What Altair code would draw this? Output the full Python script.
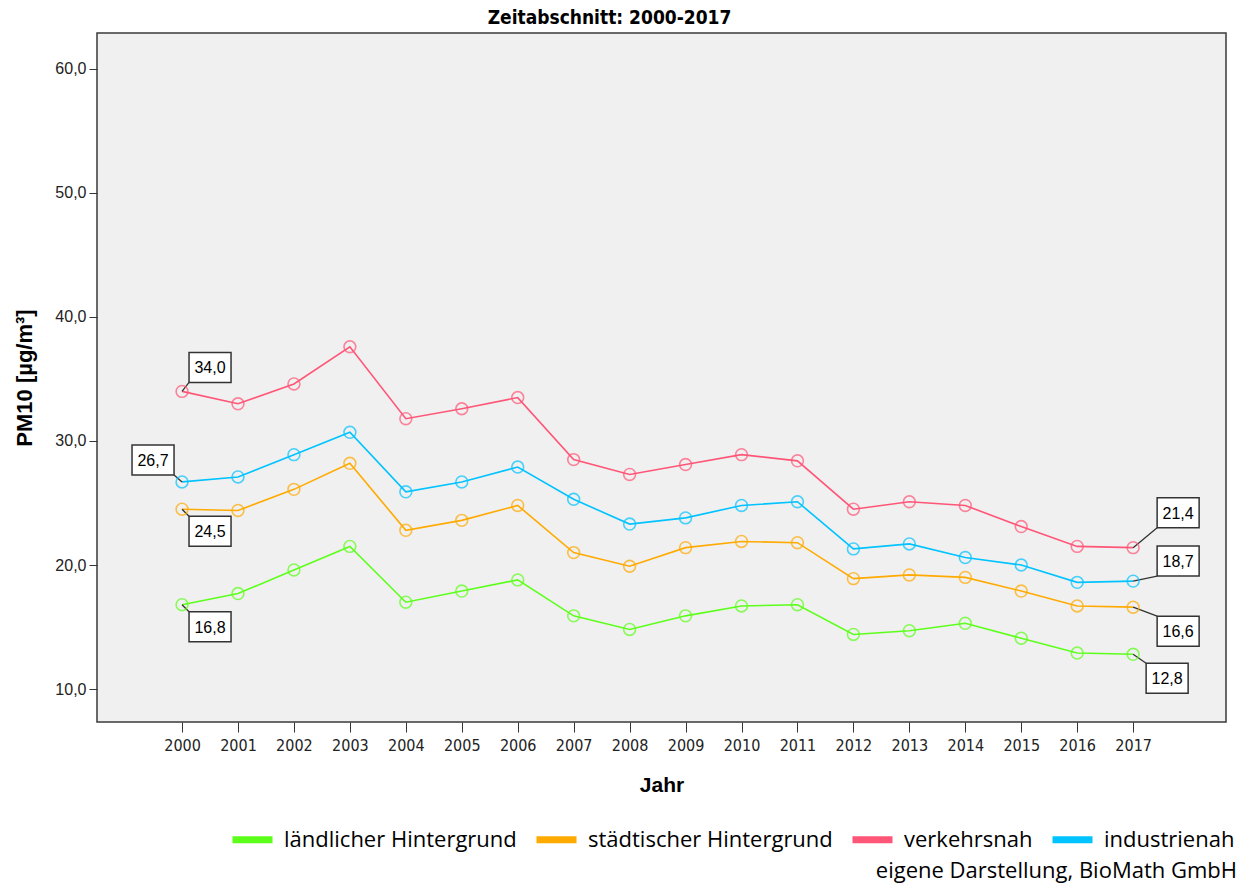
import altair as alt
import pandas as pd

years = list(range(2000, 2018))
laendlich = [16.8, 17.7, 19.6, 21.5, 17.0, 17.9, 18.8, 15.9, 14.8, 15.9, 16.7, 16.8, 14.4, 14.7, 15.3, 14.1, 12.9, 12.8]
staedtisch = [24.5, 24.4, 26.1, 28.2, 22.8, 23.6, 24.8, 21.0, 19.9, 21.4, 21.9, 21.8, 18.9, 19.2, 19.0, 17.9, 16.7, 16.6]
verkehr = [34.0, 33.0, 34.6, 37.6, 31.8, 32.6, 33.5, 28.5, 27.3, 28.1, 28.9, 28.4, 24.5, 25.1, 24.8, 23.1, 21.5, 21.4]
industrie = [26.7, 27.1, 28.9, 30.7, 25.9, 26.7, 27.9, 25.3, 23.3, 23.8, 24.8, 25.1, 21.3, 21.7, 20.6, 20.0, 18.6, 18.7]

series_names = ["ländlicher Hintergrund", "städtischer Hintergrund", "verkehrsnah", "industrienah"]
series_colors = ["#5CFF1A", "#FFAA00", "#FF5577", "#00C3FF"]

label_series = ["verkehrsnah", "industrienah", "städtischer Hintergrund", "ländlicher Hintergrund",
                "verkehrsnah", "industrienah", "städtischer Hintergrund", "ländlicher Hintergrund"]
label_years = [2000, 2000, 2000, 2000, 2017, 2017, 2017, 2017]
label_values = [34.0, 26.7, 24.5, 16.8, 21.4, 18.7, 16.6, 12.8]
label_texts = ["34,0", "26,7", "24,5", "16,8", "21,4", "18,7", "16,6", "12,8"]

y_ticks = [10, 20, 30, 40, 50, 60]
title_text = "Zeitabschnitt: 2000-2017"
credit_text = "eigene Darstellung, BioMath GmbH"

rows = []
for name, vals in zip(series_names, [laendlich, staedtisch, verkehr, industrie]):
    for yr, v in zip(years, vals):
        rows.append({"Jahr": yr, "PM10": v, "Reihe": name})
df = pd.DataFrame(rows)

lab_df = pd.DataFrame({
    "id": list(range(len(label_values))),
    "Reihe": label_series,
    "Jahr": label_years,
    "PM10": label_values,
    "txt": label_texts,
})

NARROW = "Liberation Sans Narrow, DejaVu Sans Condensed, Liberation Sans"
SANS = "Liberation Sans, Arial"
LEG = "Open Sans"

xscale = alt.Scale(domain=[1998.48, 2018.66], nice=False, zero=False)
yscale = alt.Scale(domain=[7.34, 62.9], nice=False, zero=False)

x_enc = alt.X("Jahr:Q", scale=xscale, title="Jahr",
              axis=alt.Axis(values=years, format="d", tickSize=10, labelFont=NARROW,
                            labelFontSize=16, labelPadding=5, titleFont=SANS, titleFontSize=21,
                            titleFontWeight="bold", titlePadding=21, labelFlush=False))
y_enc = alt.Y("PM10:Q", scale=yscale, title="PM10 [µg/m³]",
              axis=alt.Axis(values=y_ticks, labelExpr="replace(format(datum.value, '.1f'), '.', ',')",
                            tickSize=8, labelFont=SANS, labelFontSize=16, labelPadding=3,
                            titleFont=SANS, titleFontSize=22, titleFontWeight="bold", titlePadding=18))

color_scale = alt.Scale(domain=series_names, range=series_colors)

lines = alt.Chart(df).mark_line(strokeWidth=1.6).encode(
    x=x_enc, y=y_enc,
    color=alt.Color("Reihe:N", scale=color_scale, sort=series_names,
                    legend=alt.Legend(title=None, orient="none", legendX=132, legendY=783,
                                      direction="horizontal", columns=4, symbolType="stroke",
                                      symbolStrokeWidth=7, symbolSize=1600, labelFont=LEG,
                                      labelFontSize=22, labelColor="#000", labelOffset=8,
                                      labelLimit=0, columnPadding=5, padding=0)),
    detail="Reihe:N",
)

points = alt.Chart(df).mark_point(shape="circle", filled=False, size=140, strokeWidth=1.6).encode(
    x="Jahr:Q", y="PM10:Q",
    stroke=alt.Stroke("Reihe:N", scale=color_scale, legend=None),
)

# label layout (box centre offset dx, dy and leader end offset lx, ly)
label_layout = [(28, -24, 7, -9), (-29, -22, -8, -7), (28, 22, 7, 7), (28, 22, 7, 7),
                (45, -35, 24, -20), (45, -20, 24, -5), (45, 24, 24, 9), (34, 24, 13, 9)]

label_layers = []
for i, (dx, dy, lx, ly) in enumerate(label_layout):
    base = alt.Chart(lab_df).transform_filter(alt.datum.id == i)
    rule = base.mark_rule(color="#333333", strokeWidth=1.3, x2Offset=lx, y2Offset=ly).encode(
        x="Jahr:Q", y="PM10:Q", x2="Jahr:Q", y2="PM10:Q")
    box = base.mark_rect(width=42, height=30, xOffset=dx, yOffset=dy, fill="white",
                         stroke="#333333", strokeWidth=1.5).encode(x="Jahr:Q", y="PM10:Q")
    txt = base.mark_text(dx=dx, dy=dy + 1, font=SANS, fontSize=16, color="#000",
                         align="center", baseline="middle").encode(x="Jahr:Q", y="PM10:Q", text="txt:N")
    label_layers.append((rule, box, txt))

rules = [l[0] for l in label_layers]
boxes = [l[1] for l in label_layers]
texts = [l[2] for l in label_layers]

credit = alt.Chart(pd.DataFrame({"t": [credit_text]})).mark_text(
    align="right", baseline="middle", font=LEG, fontSize=22, color="#000"
).encode(x=alt.value(1140), y=alt.value(838), text="t:N")

chart = alt.layer(lines, *rules, points, *boxes, *texts, credit).properties(
    width=1129, height=689,
    title=alt.TitleParams(title_text, font=NARROW, fontSize=19, fontWeight="bold",
                          anchor="middle", dx=-52, offset=5, color="#000"),
    autosize=alt.AutoSizeParams(type="none"),
    padding={"left": 89, "top": 25, "right": 15, "bottom": 166},
).configure_view(
    fill="#F0F0F0", stroke="#3a3a3a", strokeWidth=1.5
).configure_axis(
    domain=False, grid=False, tickColor="#333333", labelColor="#222222", titleColor="#000"
)

chart.save("out.html", embed_options={"renderer": "svg", "actions": False})
